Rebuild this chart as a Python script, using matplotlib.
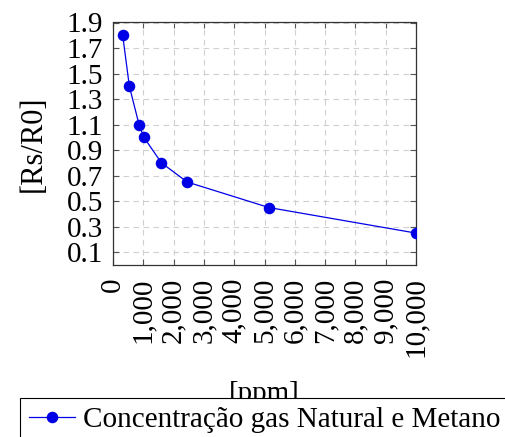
import numpy as np
import matplotlib
matplotlib.use("Agg")
import matplotlib.pyplot as plt
from matplotlib.ticker import FuncFormatter

# dati
ppm = [320, 540, 860, 1020, 1600, 2450, 5150, 10000]
rs_r0 = [1.8, 1.4, 1.1, 1.0, 0.8, 0.65, 0.45, 0.25]
xticks = [0, 1000, 2000, 3000, 4000, 5000, 6000, 7000, 8000, 9000, 10000]
yticks = [0.1, 0.3, 0.5, 0.7, 0.9, 1.1, 1.3, 1.5, 1.7, 1.9]
nomeSerie = "Concentração gas Natural e Metano"

plt.rcParams['font.family'] = ['Liberation Serif', 'DejaVu Serif']
plt.rcParams['mathtext.fontset'] = 'stix'

W, H = 505, 437
fs = 21
fig = plt.figure(figsize=(W / 100, H / 100), dpi=100)
ax = fig.add_axes([113 / W, 1 - 265 / H, (416 - 113) / W, (265 - 22.5) / H])

ax.plot(ppm, rs_r0, color='#0000e6', linewidth=0.9, marker='o', markersize=7.3,
        label=nomeSerie, zorder=3)

ax.set_xlim(0, 10000)
ax.set_ylim(0.0, 1.9)
ax.set_xticks(xticks)
ax.set_yticks(yticks)
ax.xaxis.set_major_formatter(FuncFormatter(lambda v, p: f"{int(v):,}"))
ax.yaxis.set_major_formatter(FuncFormatter(lambda v, p: f"{v:.1f}"))

ax.tick_params(direction='in', top=True, right=True, length=4, width=0.8,
               color='#555555', labelsize=fs, pad=7)
ax.tick_params(axis='x', labelrotation=90, pad=9)
ax.grid(True, color='#d0d0d0', linestyle=(0, (5, 4)), linewidth=0.8)
for s in ax.spines.values():
    s.set_linewidth(0.9)
    s.set_color('#333333')

ax.set_ylabel('[Rs/R0]', fontsize=fs + 1)
ax.yaxis.set_label_coords(-0.215, 0.5)
ax.set_xlabel('[ppm]', fontsize=fs)
ax.xaxis.set_label_coords(0.5, -0.48)

# legenda in basso, esce dal bordo come nell'originale
leg = fig.legend(loc='upper left', bbox_to_anchor=(20 / W, 1 - 398 / H), fontsize=fs,
                 fancybox=False, edgecolor='black', framealpha=1, handlelength=1.6,
                 handletextpad=0.25, borderpad=0.3, borderaxespad=0)
leg.get_frame().set_linewidth(0.8)

fig.savefig('out.png', dpi=100)
